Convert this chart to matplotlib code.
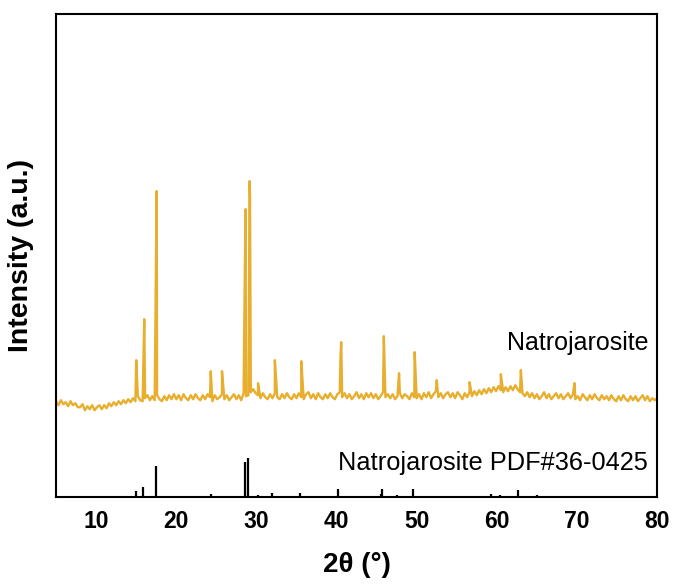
import numpy as np
import matplotlib
matplotlib.use("Agg")
import matplotlib.pyplot as plt

plt.rcParams['font.family'] = ['Liberation Sans', 'DejaVu Sans']

# measured pattern: background read every 0.3 deg from 5 to 80
scan_start, scan_step = 5.0, 0.3
background = [
    96, 92, 97, 93, 95, 91, 96, 92, 94, 90,
    90, 93, 87, 91, 88, 92, 87, 90, 92, 88,
    92, 89, 94, 91, 95, 92, 96, 93, 97, 94,
    98, 95, 99, 96, 101, 97, 96, 99, 102, 97,
    101, 97, 102, 98, 96, 101, 97, 102, 98, 103,
    98, 102, 97, 103, 99, 97, 102, 98, 103, 99,
    97, 102, 98, 103, 100, 96, 102, 98, 100, 103,
    98, 102, 97, 100, 103, 98, 102, 97, 104, 101,
    102, 105, 108, 104, 102, 99, 104, 100, 98, 103,
    99, 104, 100, 98, 103, 99, 104, 100, 98, 103,
    99, 104, 100, 98, 103, 105, 99, 103, 98, 104,
    100, 98, 103, 99, 104, 100, 98, 103, 105, 100,
    104, 99, 103, 98, 101, 105, 99, 103, 98, 104,
    100, 104, 99, 103, 98, 101, 105, 100, 103, 99,
    103, 98, 101, 104, 99, 103, 101, 98, 104, 100,
    99, 103, 98, 104, 100, 105, 99, 103, 106, 100,
    104, 99, 103, 105, 100, 104, 99, 105, 102, 98,
    104, 100, 105, 101, 106, 102, 107, 103, 108, 104,
    109, 105, 110, 106, 111, 107, 105, 110, 106, 111,
    107, 112, 108, 105, 104, 101, 105, 100, 104, 99,
    103, 98, 101, 105, 99, 103, 98, 101, 104, 99,
    103, 98, 101, 104, 99, 103, 98, 101, 97, 103,
    100, 97, 102, 98, 103, 99, 97, 102, 98, 101,
    97, 102, 98, 96, 101, 97, 102, 98, 96, 101,
    97, 101, 96, 99, 102, 97, 101, 96, 99, 97,
    99,
]

# measured peak tops (2theta, intensity)
peak_pos = [15.0, 16.0, 17.48, 17.55, 24.3, 25.7, 28.6, 28.65, 29.15, 29.2,
            30.2, 32.3, 35.6, 40.5, 40.58, 45.9, 47.8, 49.75, 52.5, 56.6,
            60.5, 63.0, 69.7]
peak_int = [137, 178, 250, 306, 126, 126, 262, 288, 316, 300,
            114, 137, 136, 142, 155, 161, 124, 145, 117, 115,
            123, 127, 114]

# reference card PDF#36-0425 (relative intensity)
ref_pos = [15.0, 15.9, 17.5, 24.3, 28.6, 29.0, 30.2, 32.0, 35.4, 40.2,
           45.5, 45.7, 47.5, 49.5, 59.3, 60.4, 62.7, 65.0, 68.3]
ref_int = [15, 26, 79, 8, 90, 100, 5, 10, 10, 20,
           8, 20, 5, 20, 8, 5, 18, 5, 3]

bg_x = scan_start + scan_step * np.arange(len(background))
x = np.concatenate([bg_x, peak_pos])
y = np.concatenate([background, peak_int])
order = np.argsort(x, kind='stable')
x, y = x[order], y[order]

fig = plt.figure(figsize=(6.76, 5.85), dpi=100)
ax = fig.add_axes([0.083, 0.150, 0.889, 0.826])

ax.plot(x, y, color='#E8AE2E', lw=1.7)
ax.vlines(ref_pos, 0, np.array(ref_int) * 0.39, color='black', lw=1.6)

ax.text(78.9, 154, 'Natrojarosite', ha='right', va='center', fontsize=18)
ax.text(78.9, 34, 'Natrojarosite PDF#36-0425', ha='right', va='center', fontsize=18.3)

ax.set_xlim(5, 80)
ax.set_ylim(0, 483)
ax.set_xticks([10, 20, 30, 40, 50, 60, 70, 80])
ax.set_yticks([])
ax.tick_params(axis='x', length=0, pad=9, labelsize=16.5)
for lbl in ax.get_xticklabels():
    lbl.set_fontweight('bold')
for sp in ax.spines.values():
    sp.set_linewidth(1.5)

ax.set_xlabel('2θ (°)', fontsize=20, fontweight='bold', labelpad=14)
ax.set_ylabel('Intensity (a.u.)', fontsize=20.5, fontweight='bold', labelpad=16)

fig.savefig('out.png', dpi=100)
